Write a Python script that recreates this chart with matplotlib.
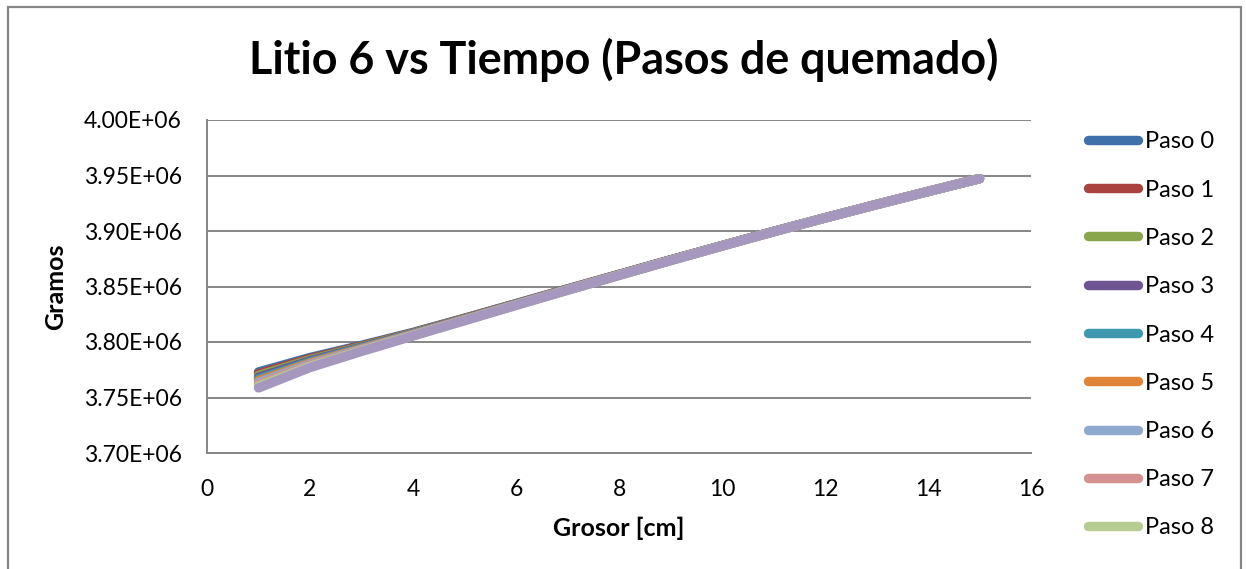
import matplotlib
matplotlib.use("Agg")
import matplotlib.pyplot as plt
from matplotlib.lines import Line2D
from matplotlib.patches import Rectangle
from matplotlib.ticker import FuncFormatter

plt.rcParams['font.family'] = ['Lato', 'DejaVu Sans']

# Thickness [cm]
grosor = [1, 2, 3, 4, 5, 6, 7, 8, 9, 10, 11, 12, 13, 14, 15]

# Li-6 mass [g] per burn-up step
paso_0 = [3773000, 3786000, 3797000, 3808600, 3821400, 3834600, 3847800, 3860900,
          3874000, 3886900, 3899600, 3911900, 3923900, 3935600, 3947200]
paso_1 = [3771400, 3785000, 3796400, 3808200, 3821200, 3834400, 3847700, 3860800,
          3873900, 3886800, 3899600, 3911900, 3923900, 3935600, 3947200]
paso_2 = [3769800, 3784000, 3795800, 3807900, 3820900, 3834200, 3847500, 3860700,
          3873800, 3886800, 3899500, 3911900, 3923900, 3935600, 3947200]
paso_3 = [3768200, 3783000, 3795200, 3807500, 3820700, 3834100, 3847400, 3860600,
          3873800, 3886700, 3899500, 3911800, 3923900, 3935600, 3947200]
paso_4 = [3766600, 3782000, 3794600, 3807200, 3820400, 3833900, 3847300, 3860500,
          3873700, 3886700, 3899500, 3911800, 3923900, 3935600, 3947200]
paso_5 = [3765000, 3781000, 3793900, 3806800, 3820200, 3833700, 3847100, 3860400,
          3873600, 3886600, 3899400, 3911800, 3923800, 3935600, 3947200]
paso_6 = [3763400, 3780000, 3793300, 3806500, 3819900, 3833500, 3847000, 3860300,
          3873500, 3886600, 3899400, 3911800, 3923800, 3935600, 3947200]
paso_7 = [3761800, 3779000, 3792700, 3806100, 3819700, 3833400, 3846900, 3860200,
          3873500, 3886500, 3899400, 3911700, 3923800, 3935600, 3947200]
paso_8 = [3760200, 3778000, 3792100, 3805800, 3819400, 3833200, 3846700, 3860100,
          3873400, 3886500, 3899300, 3911700, 3923800, 3935600, 3947200]
paso_9 = [3758600, 3777000, 3791500, 3805400, 3819200, 3833000, 3846600, 3860000,
          3873300, 3886400, 3899300, 3911700, 3923800, 3935600, 3947200]

series = [paso_0, paso_1, paso_2, paso_3, paso_4, paso_5, paso_6, paso_7, paso_8, paso_9]
labels = ["Paso 0", "Paso 1", "Paso 2", "Paso 3", "Paso 4", "Paso 5", "Paso 6",
          "Paso 7", "Paso 8", "Paso 9"]
colors = ["#4070AA", "#AA4340", "#89A64C", "#6E5492", "#3E98B0", "#E0843A",
          "#8FA9CE", "#D39190", "#B6CC92", "#A597BD"]
legend_count = 9

y_ticks = [3.70e6, 3.75e6, 3.80e6, 3.85e6, 3.90e6, 3.95e6, 4.00e6]
x_ticks = [0, 2, 4, 6, 8, 10, 12, 14, 16]

W, H = 1246, 569
fig = plt.figure(figsize=(W / 100, H / 100), dpi=100)
fig.patch.set_facecolor("white")

grid_col = "#868686"

# chart border
fig.add_artist(Rectangle((8 / W, -0.05), (1241 - 8) / W, 1.05 - 7 / H,
                         transform=fig.transFigure, fill=False,
                         edgecolor=grid_col, linewidth=1.6))

ax = fig.add_axes([207 / W, 1 - 453 / H, (1031 - 207) / W, (453 - 120) / H])
ax.set_xlim(0, 16)
ax.set_ylim(3.70e6, 4.00e6)
ax.set_xticks(x_ticks)
ax.set_yticks(y_ticks)
ax.yaxis.set_major_formatter(FuncFormatter(
    lambda v, p: "{:.2E}".format(v)))
ax.tick_params(axis="both", length=0, labelsize=16.5, colors="black")
ax.tick_params(axis="y", pad=18)
ax.tick_params(axis="x", pad=19)

for s in ["top", "right"]:
    ax.spines[s].set_visible(False)
for s in ["left", "bottom"]:
    ax.spines[s].set_color(grid_col)
    ax.spines[s].set_linewidth(1.4)
ax.grid(axis="y", color=grid_col, linewidth=1.4)
ax.set_axisbelow(True)

for vals, col in zip(series, colors):
    ax.plot(grosor, vals, color=col, linewidth=6.8,
            solid_capstyle="round", solid_joinstyle="round", clip_on=False)

ax.set_xlabel("Grosor [cm]", fontsize=18, fontweight="bold", labelpad=12)
ax.set_ylabel("Gramos", fontsize=18, fontweight="bold", labelpad=12)

fig.text(624 / W, 1 - 60 / H, "Litio 6 vs Tiempo (Pasos de quemado)",
         ha="center", va="center", fontsize=32.3, fontweight="bold")

# legend
y0, dy = 140, 48.25
for i in range(legend_count):
    yy = 1 - (y0 + i * dy) / H
    fig.add_artist(Line2D([1088 / W, 1138 / W], [yy, yy], transform=fig.transFigure,
                          color=colors[i], linewidth=6.8, solid_capstyle="round"))
    fig.text(1145 / W, yy, labels[i], ha="left", va="center_baseline", fontsize=17)

fig.savefig("out.png", dpi=100)
